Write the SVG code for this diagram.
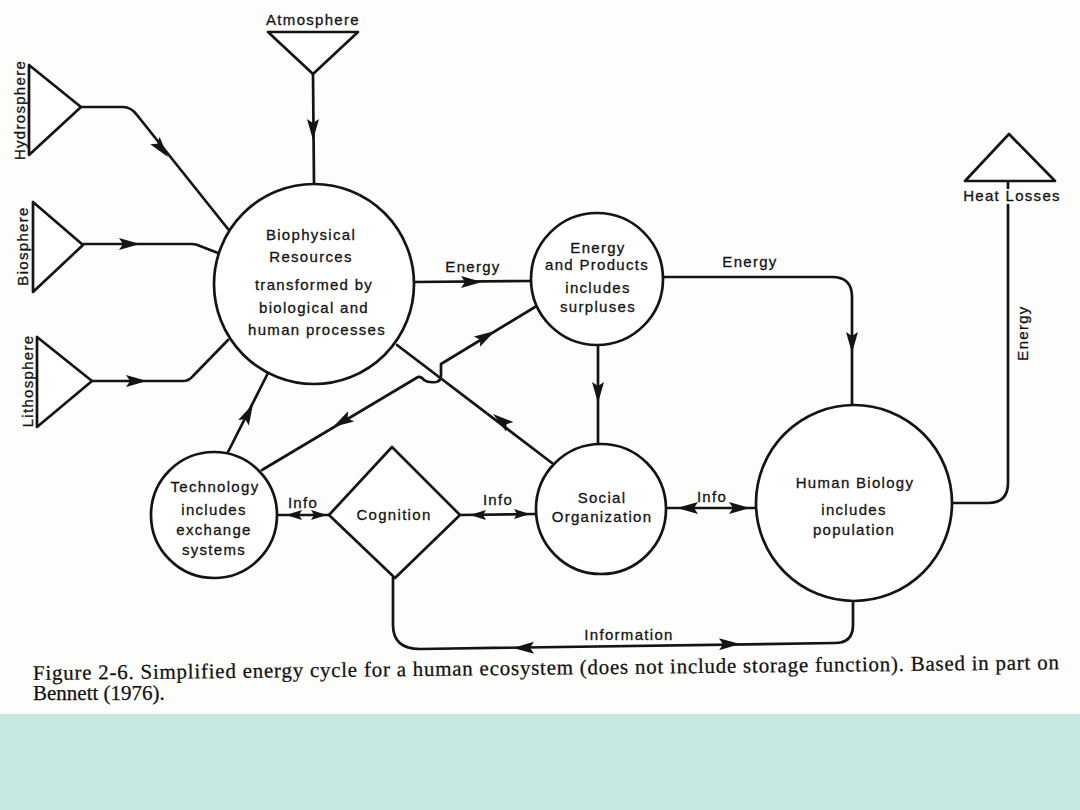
<svg xmlns="http://www.w3.org/2000/svg" xmlns:xlink="http://www.w3.org/1999/xlink" width="1080" height="810" viewBox="0 0 1080 810">
<style>
.sh{fill:#fff;stroke:#141414;stroke-width:2.7;stroke-linejoin:round}
.ln{fill:none;stroke:#141414;stroke-width:2.7;stroke-linejoin:round;stroke-linecap:round}
.t{font-family:"Liberation Sans",Arial,sans-serif;font-size:15px;letter-spacing:1.3px;fill:#141414;stroke:#141414;stroke-width:0.3px;text-anchor:middle}
.cap{font-family:"Liberation Serif","Times New Roman",serif;font-size:21px;fill:#111;stroke:#111;stroke-width:0.25px}
.ah{fill:#141414}
</style>
<defs>
<path id="ah" d="M0,0 L-21,-6 L-17,0 L-21,6 Z"/>
<path id="ahs" d="M0,0 L-16,-5 L-13,0 L-16,5 Z"/>
</defs>
<rect x="0" y="0" width="1080" height="715" fill="#fdfdfc"/>
<rect x="0" y="714" width="1080" height="96" fill="#c3e9e0"/>

<g id="connectors">
<path class="ln" d="M313,74 L314,184"/>
<path class="ln" d="M81,107 L123,107 Q131,107 137,115 L228,229"/>
<path class="ln" d="M83,244 L192,244 Q196,244 200,246 L218,253"/>
<path class="ln" d="M92,381 L183,381 Q189,381 193,376 L228,340"/>
<path class="ln" d="M414,282 L532,281"/>
<path class="ln" d="M598,345 L598,445"/>
<path class="ln" d="M663,277 L832,277 Q852,277 852,297 L852,405"/>
<path class="ln" d="M953,503 L988,503 Q1008,503 1008,483 L1008,205"/>
<path class="ln" d="M1008,181 L1008,188"/>
<path class="ln" d="M228,452 L268,373"/>
<path class="ln" d="M262,470 L418,377 Q421,376 424,380 Q428,383 436,382 Q441,381 441,376 L441,364 L535,307"/>
<path class="ln" d="M397,345 L552,463"/>
<path class="ln" d="M277,515 L329,515"/>
<path class="ln" d="M460,515 L536,514"/>
<path class="ln" d="M667,508 L756,508"/>
<path class="ln" d="M853,602 L853,625 Q853,643 835,643 L420,649 Q393,649 393,625 L393,578"/>
<g class="ah">
<use xlink:href="#ah" transform="translate(313,140) rotate(90)"/>
<use xlink:href="#ah" transform="translate(168,157) rotate(51.3)"/>
<use xlink:href="#ah" transform="translate(140,244)"/>
<use xlink:href="#ah" transform="translate(147,381)"/>
<use xlink:href="#ah" transform="translate(482,282)"/>
<use xlink:href="#ah" transform="translate(598,403) rotate(90)"/>
<use xlink:href="#ah" transform="translate(852,353) rotate(90)"/>
<use xlink:href="#ah" transform="translate(253,404) rotate(-63.1)"/>
<use xlink:href="#ah" transform="translate(333,427) rotate(149.5)"/>
<use xlink:href="#ah" transform="translate(495,331) rotate(-30.5)"/>
<use xlink:href="#ah" transform="translate(493,414) rotate(-142.7)"/>
<use xlink:href="#ahs" transform="translate(286,515) rotate(180)"/>
<use xlink:href="#ahs" transform="translate(327,515)"/>
<use xlink:href="#ahs" transform="translate(470,515) rotate(180)"/>
<use xlink:href="#ahs" transform="translate(530,514)"/>
<use xlink:href="#ah" transform="translate(677,508) rotate(180)"/>
<use xlink:href="#ah" transform="translate(750,508)"/>
<use xlink:href="#ah" transform="translate(513,648) rotate(179.2)"/>
<use xlink:href="#ah" transform="translate(740,644) rotate(-0.8)"/>
</g>
<text class="t" x="473" y="272">Energy</text>
<text class="t" x="750" y="267">Energy</text>
<text class="t" transform="translate(1028,333) rotate(-90)">Energy</text>
<text class="t" x="303" y="508">Info</text>
<text class="t" x="498" y="505">Info</text>
<text class="t" x="712" y="502">Info</text>
<text class="t" x="629" y="640">Information</text>
</g>

<g id="atmosphere">
<polygon class="sh" points="268,32 358,32 313,74"/>
<text class="t" x="313" y="25">Atmosphere</text>
</g>
<g id="hydrosphere">
<polygon class="sh" points="29,65 29,155 81,107"/>
<text class="t" transform="translate(25,110) rotate(-90)">Hydrosphere</text>
</g>
<g id="biosphere">
<polygon class="sh" points="33,202 33,292 83,245"/>
<text class="t" transform="translate(28,246) rotate(-90)">Biosphere</text>
</g>
<g id="lithosphere">
<polygon class="sh" points="37,337 37,427 92,381"/>
<text class="t" transform="translate(33,381) rotate(-90)">Lithosphere</text>
</g>
<g id="heat-losses">
<polygon class="sh" points="965,181 1055,181 1009,134"/>
<text class="t" x="1012" y="201">Heat Losses</text>
</g>

<g id="biophysical">
<circle class="sh" cx="314" cy="284" r="100"/>
<text class="t" x="311" y="240">Biophysical</text>
<text class="t" x="311" y="262">Resources</text>
<text class="t" x="314" y="290">transformed by</text>
<text class="t" x="314" y="313">biological and</text>
<text class="t" x="317" y="335">human processes</text>
</g>
<g id="energy-products">
<circle class="sh" cx="597" cy="279" r="66"/>
<text class="t" x="598" y="253">Energy</text>
<text class="t" x="597" y="270">and Products</text>
<text class="t" x="598" y="293">includes</text>
<text class="t" x="598" y="312">surpluses</text>
</g>
<g id="technology">
<circle class="sh" cx="214" cy="515" r="63"/>
<text class="t" x="215" y="492">Technology</text>
<text class="t" x="214" y="515">includes</text>
<text class="t" x="214" y="535">exchange</text>
<text class="t" x="214" y="555">systems</text>
</g>
<g id="cognition">
<polygon class="sh" points="392,447 460,515 395,578 329,515"/>
<text class="t" x="394" y="520">Cognition</text>
</g>
<g id="social-organization">
<circle class="sh" cx="601" cy="509" r="65"/>
<text class="t" x="602" y="503">Social</text>
<text class="t" x="602" y="522">Organization</text>
</g>
<g id="human-biology">
<circle class="sh" cx="854" cy="503" r="98"/>
<text class="t" x="855" y="488">Human Biology</text>
<text class="t" x="854" y="515">includes</text>
<text class="t" x="854" y="535">population</text>
</g>

<g id="caption">
<text class="cap" x="33" y="680" textLength="1026" lengthAdjust="spacing" transform="rotate(-0.6 33 680)">Figure 2-6. Simplified energy cycle for a human ecosystem (does not include storage function). Based in part on</text>
<text class="cap" x="33" y="700">Bennett (1976).</text>
</g>
</svg>
